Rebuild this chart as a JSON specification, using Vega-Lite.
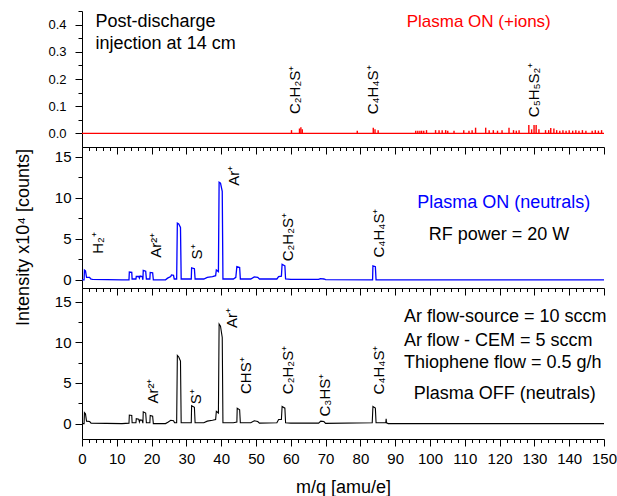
{
  "$schema": "https://vega.github.io/schema/vega-lite/v6.json",
  "background": "white",
  "padding": {"left": 14, "top": 10, "right": 0, "bottom": 0},
  "spacing": 0,
  "bounds": "flush",
  "config": {
    "view": {"stroke": null},
    "font": "Liberation Sans",
    "axis": {
      "grid": false,
      "domainColor": "black",
      "tickColor": "black",
      "labelColor": "black",
      "titleColor": "black",
      "labelFont": "Liberation Sans",
      "titleFont": "Liberation Sans",
      "labelFontSize": 15,
      "titleFontSize": 18,
      "titleFontWeight": "normal",
      "domainWidth": 1,
      "tickWidth": 1
    },
    "text": {"font": "Liberation Sans"}
  },
  "datasets": {
    "red": [{"x": 0, "y": 0}, {"x": 150, "y": 0}],
    "redSpikes": [
      {"x": 60.2, "y": 0.012}, {"x": 62.5, "y": 0.018}, {"x": 62.9, "y": 0.023}, {"x": 63.3, "y": 0.015},
      {"x": 79.1, "y": 0.01}, {"x": 83.7, "y": 0.021}, {"x": 84.2, "y": 0.015}, {"x": 85.1, "y": 0.012},
      {"x": 95.9, "y": 0.01}, {"x": 96.5, "y": 0.01}, {"x": 97.1, "y": 0.01}, {"x": 97.6, "y": 0.01},
      {"x": 98.2, "y": 0.01}, {"x": 99.0, "y": 0.012}, {"x": 101.6, "y": 0.012}, {"x": 102.6, "y": 0.012},
      {"x": 103.5, "y": 0.012}, {"x": 104.5, "y": 0.012}, {"x": 105.1, "y": 0.01}, {"x": 106.9, "y": 0.01},
      {"x": 109.7, "y": 0.012}, {"x": 111.2, "y": 0.01}, {"x": 112.1, "y": 0.012}, {"x": 113.1, "y": 0.021},
      {"x": 116.0, "y": 0.021}, {"x": 117.0, "y": 0.012}, {"x": 118.2, "y": 0.012}, {"x": 119.4, "y": 0.01},
      {"x": 120.7, "y": 0.012}, {"x": 122.7, "y": 0.021}, {"x": 124.0, "y": 0.012}, {"x": 124.8, "y": 0.01},
      {"x": 125.6, "y": 0.012}, {"x": 128.4, "y": 0.031}, {"x": 129.2, "y": 0.015}, {"x": 129.9, "y": 0.031},
      {"x": 130.5, "y": 0.031}, {"x": 131.3, "y": 0.015}, {"x": 133.2, "y": 0.012}, {"x": 134.1, "y": 0.012},
      {"x": 134.7, "y": 0.02}, {"x": 135.6, "y": 0.018}, {"x": 136.4, "y": 0.012}, {"x": 137.3, "y": 0.01},
      {"x": 138.2, "y": 0.012}, {"x": 139.1, "y": 0.01}, {"x": 140.0, "y": 0.012}, {"x": 141.0, "y": 0.01},
      {"x": 141.9, "y": 0.012}, {"x": 142.8, "y": 0.01}, {"x": 143.8, "y": 0.012}, {"x": 144.8, "y": 0.01},
      {"x": 146.6, "y": 0.01}, {"x": 147.5, "y": 0.012}, {"x": 148.4, "y": 0.01}, {"x": 149.3, "y": 0.012}
    ],
    "blue": [
      {"x": 0, "y": 0}, {"x": 0.6, "y": 0}, {"x": 0.7, "y": 1.2}, {"x": 1.0, "y": 1.1}, {"x": 1.3, "y": 0.3},
      {"x": 2.2, "y": 0.3}, {"x": 2.5, "y": 0.1}, {"x": 3.0, "y": 0.05}, {"x": 11.5, "y": 0}, {"x": 13.5, "y": 0},
      {"x": 13.6, "y": 0.95}, {"x": 14.3, "y": 0.9}, {"x": 14.4, "y": 0.1}, {"x": 15.5, "y": 0.1}, {"x": 15.6, "y": 0.4},
      {"x": 16.3, "y": 0.4}, {"x": 16.5, "y": 0.2}, {"x": 16.7, "y": 0.45}, {"x": 17.3, "y": 0.4}, {"x": 17.5, "y": 0},
      {"x": 17.6, "y": 1.15}, {"x": 18.3, "y": 1.05}, {"x": 18.5, "y": 0.1}, {"x": 19.5, "y": 0.1}, {"x": 19.6, "y": 0.9},
      {"x": 20.3, "y": 0.85}, {"x": 20.5, "y": 0}, {"x": 24.0, "y": 0}, {"x": 24.6, "y": 0.2}, {"x": 25.5, "y": 0.4},
      {"x": 25.7, "y": 0.6}, {"x": 26.3, "y": 0.55}, {"x": 26.5, "y": 0.1}, {"x": 27.2, "y": 0.1}, {"x": 27.4, "y": 6.9},
      {"x": 27.8, "y": 6.8}, {"x": 28.3, "y": 6.4}, {"x": 28.5, "y": 0.1}, {"x": 31.4, "y": 0.1}, {"x": 31.5, "y": 1.45},
      {"x": 32.3, "y": 1.35}, {"x": 32.5, "y": 0.1}, {"x": 35.0, "y": 0.1}, {"x": 36.0, "y": 0.3}, {"x": 37.5, "y": 0.4},
      {"x": 38.4, "y": 0.5}, {"x": 38.6, "y": 1.2}, {"x": 39.2, "y": 1.0}, {"x": 39.4, "y": 11.9}, {"x": 39.8, "y": 11.8},
      {"x": 40.3, "y": 10.8}, {"x": 40.5, "y": 0.1}, {"x": 43.5, "y": 0.1}, {"x": 44.2, "y": 0.3}, {"x": 44.5, "y": 1.6},
      {"x": 45.3, "y": 1.5}, {"x": 45.5, "y": 0.1}, {"x": 48.5, "y": 0.1}, {"x": 49.5, "y": 0.35}, {"x": 50.5, "y": 0.3},
      {"x": 51.0, "y": 0.1}, {"x": 56.0, "y": 0.1}, {"x": 56.5, "y": 0.4}, {"x": 57.3, "y": 0.45}, {"x": 57.5, "y": 1.9},
      {"x": 58.3, "y": 1.7}, {"x": 58.5, "y": 0.1}, {"x": 60.0, "y": 0.05}, {"x": 68.0, "y": 0.05}, {"x": 68.5, "y": 0.15},
      {"x": 69.5, "y": 0.1}, {"x": 70.0, "y": 0.02}, {"x": 83.5, "y": 0}, {"x": 83.6, "y": 1.7}, {"x": 84.3, "y": 1.6},
      {"x": 84.5, "y": 0}, {"x": 150, "y": 0}
    ],
    "black": [
      {"x": 0, "y": 0}, {"x": 0.6, "y": 0}, {"x": 0.7, "y": 1.35}, {"x": 1.0, "y": 1.2}, {"x": 1.3, "y": 0.3},
      {"x": 2.2, "y": 0.25}, {"x": 2.6, "y": 0.05}, {"x": 11.5, "y": 0}, {"x": 13.5, "y": 0.05}, {"x": 13.6, "y": 1.05},
      {"x": 14.3, "y": 1.0}, {"x": 14.4, "y": 0.1}, {"x": 15.5, "y": 0.1}, {"x": 15.6, "y": 0.6}, {"x": 16.3, "y": 0.55},
      {"x": 16.5, "y": 0.2}, {"x": 16.7, "y": 0.45}, {"x": 17.3, "y": 0.4}, {"x": 17.5, "y": 0.05}, {"x": 17.6, "y": 1.45},
      {"x": 18.3, "y": 1.3}, {"x": 18.5, "y": 0.1}, {"x": 19.5, "y": 0.1}, {"x": 19.6, "y": 1.0}, {"x": 20.3, "y": 0.9},
      {"x": 20.5, "y": 0}, {"x": 24.0, "y": 0}, {"x": 24.8, "y": 0.2}, {"x": 25.5, "y": 0.4}, {"x": 26.3, "y": 0.35},
      {"x": 26.6, "y": 0.1}, {"x": 27.2, "y": 0.1}, {"x": 27.4, "y": 8.4}, {"x": 27.8, "y": 8.2}, {"x": 28.3, "y": 7.7},
      {"x": 28.5, "y": 0.1}, {"x": 31.4, "y": 0.1}, {"x": 31.5, "y": 2.2}, {"x": 32.3, "y": 2.0}, {"x": 32.5, "y": 0.1},
      {"x": 35.0, "y": 0.1}, {"x": 36.0, "y": 0.3}, {"x": 37.5, "y": 0.4}, {"x": 38.4, "y": 0.5}, {"x": 38.6, "y": 1.5},
      {"x": 39.2, "y": 1.3}, {"x": 39.4, "y": 12.25}, {"x": 39.8, "y": 12.0}, {"x": 40.3, "y": 10.6}, {"x": 40.5, "y": 0.1},
      {"x": 43.5, "y": 0.1}, {"x": 44.5, "y": 0.2}, {"x": 44.6, "y": 1.9}, {"x": 45.3, "y": 1.7}, {"x": 45.5, "y": 0.1},
      {"x": 48.5, "y": 0.1}, {"x": 49.5, "y": 0.35}, {"x": 50.5, "y": 0.25}, {"x": 51.0, "y": 0.05}, {"x": 56.0, "y": 0.1},
      {"x": 56.5, "y": 0.5}, {"x": 57.3, "y": 0.5}, {"x": 57.5, "y": 2.1}, {"x": 58.3, "y": 1.9}, {"x": 58.5, "y": 0.1},
      {"x": 60.0, "y": 0.05}, {"x": 68.0, "y": 0.05}, {"x": 68.6, "y": 0.3}, {"x": 69.5, "y": 0.25}, {"x": 70.0, "y": 0.02},
      {"x": 83.4, "y": 0.1}, {"x": 83.6, "y": 2.1}, {"x": 84.3, "y": 1.9}, {"x": 84.5, "y": 0.1}, {"x": 87.3, "y": 0.1},
      {"x": 87.4, "y": 0.6}, {"x": 87.5, "y": 0.1}, {"x": 88.0, "y": 0}, {"x": 150, "y": 0}
    ],
    "topRot": [
      {"x": 61.2, "y": 0.16, "t": "C₂H₂S⁺"},
      {"x": 83.7, "y": 0.16, "t": "C₄H₄S⁺"},
      {"x": 130.0, "y": 0.16, "t": "C₅H₅S₂⁺"}
    ],
    "topLeft": [
      {"x": 3.9, "y": 0.408, "t": "Post-discharge"},
      {"x": 3.9, "y": 0.329, "t": "injection at 14 cm"}
    ],
    "topRed": [{"x": 114, "y": 0.408, "t": "Plasma ON (+ions)"}],
    "midRot": [
      {"x": 4.5, "y": 4.5, "t": "H₂⁺"},
      {"x": 21.3, "y": 4.2, "t": "Ar²⁺"},
      {"x": 33.0, "y": 3.4, "t": "S⁺"},
      {"x": 43.6, "y": 12.7, "t": "Ar⁺"},
      {"x": 59.1, "y": 5.2, "t": "C₂H₂S⁺"},
      {"x": 85.3, "y": 5.7, "t": "C₄H₄S⁺"}
    ],
    "midBlue": [{"x": 121.2, "y": 9.4, "t": "Plasma ON (neutrals)"}],
    "midBlack": [{"x": 119.8, "y": 5.5, "t": "RF power = 20 W"}],
    "botRot": [
      {"x": 20.5, "y": 4.0, "t": "Ar²⁺"},
      {"x": 32.7, "y": 3.3, "t": "S⁺"},
      {"x": 43.2, "y": 13.0, "t": "Ar⁺"},
      {"x": 47.2, "y": 5.9, "t": "CHS⁺"},
      {"x": 59.1, "y": 6.6, "t": "C₂H₂S⁺"},
      {"x": 69.8, "y": 3.5, "t": "C₃HS⁺"},
      {"x": 85.3, "y": 6.6, "t": "C₄H₄S⁺"}
    ],
    "botLeft": [
      {"x": 92.5, "y": 13.07, "t": "Ar flow-source = 10 sccm"},
      {"x": 92.5, "y": 10.2, "t": "Ar flow - CEM = 5 sccm"},
      {"x": 92.5, "y": 7.5, "t": "Thiophene flow = 0.5 g/h"}
    ],
    "botCenter": [{"x": 121.5, "y": 3.6, "t": "Plasma OFF (neutrals)"}]
  },
  "vconcat": [
    {
      "width": 522,
      "height": 136,
      "encoding": {
        "x": {
          "field": "x", "type": "quantitative",
          "scale": {"domain": [0, 150], "nice": false, "zero": false},
          "axis": {
            "values": [0,2,4,6,8,10,12,14,16,18,20,22,24,26,28,30,32,34,36,38,40,42,44,46,48,50,52,54,56,58,60,62,64,66,68,70,72,74,76,78,80,82,84,86,88,90,92,94,96,98,100,102,104,106,108,110,112,114,116,118,120,122,124,126,128,130,132,134,136,138,140,142,144,146,148,150],
            "labels": false, "title": null,
            "tickSize": {"condition": {"test": "datum.value % 10 == 0", "value": 7}, "value": 3.5}
          }
        },
        "y": {
          "field": "y", "type": "quantitative",
          "scale": {"domain": [-0.05, 0.45], "nice": false, "zero": false},
          "axis": {
            "values": [0, 0.05, 0.1, 0.15, 0.2, 0.25, 0.3, 0.35, 0.4, 0.45],
            "labelExpr": "round(datum.value*100) % 10 == 0 ? format(datum.value, '.1f') : ''",
            "tickSize": {"condition": {"test": "round(datum.value*100) % 10 == 0", "value": 7}, "value": 4},
            "labelFontSize": 13,
            "labelPadding": 9,
            "title": null
          }
        }
      },
      "layer": [
        {"data": {"name": "red"}, "mark": {"type": "line", "color": "#ff0000", "strokeWidth": 1.3}},
        {"data": {"name": "redSpikes"}, "mark": {"type": "rule", "color": "#ff0000", "strokeWidth": 1.4}, "encoding": {"y2": {"datum": 0}}},
        {"data": {"name": "topRot"}, "mark": {"type": "text", "angle": 270, "align": "center", "baseline": "middle", "fontSize": 15, "color": "black"}, "encoding": {"text": {"field": "t"}}},
        {"data": {"name": "topLeft"}, "mark": {"type": "text", "align": "left", "baseline": "middle", "fontSize": 18, "color": "black"}, "encoding": {"text": {"field": "t"}}},
        {"data": {"name": "topRed"}, "mark": {"type": "text", "align": "center", "baseline": "middle", "fontSize": 17, "color": "#ff0000"}, "encoding": {"text": {"field": "t"}}}
      ]
    },
    {
      "width": 522,
      "height": 141,
      "encoding": {
        "x": {
          "field": "x", "type": "quantitative",
          "scale": {"domain": [0, 150], "nice": false, "zero": false},
          "axis": {
            "values": [0,2,4,6,8,10,12,14,16,18,20,22,24,26,28,30,32,34,36,38,40,42,44,46,48,50,52,54,56,58,60,62,64,66,68,70,72,74,76,78,80,82,84,86,88,90,92,94,96,98,100,102,104,106,108,110,112,114,116,118,120,122,124,126,128,130,132,134,136,138,140,142,144,146,148,150],
            "labels": false, "title": null,
            "tickSize": {"condition": {"test": "datum.value % 10 == 0", "value": 7}, "value": 3.5}
          }
        },
        "y": {
          "field": "y", "type": "quantitative",
          "scale": {"domain": [-1, 16.2], "nice": false, "zero": false},
          "axis": {
            "values": [0, 2.5, 5, 7.5, 10, 12.5, 15],
            "labelExpr": "datum.value % 5 == 0 ? datum.label : ''",
            "tickSize": {"condition": {"test": "datum.value % 5 == 0", "value": 7}, "value": 4},
            "labelPadding": 4,
            "title": "Intensity  x10⁴ [counts]",
            "titleX": -58.5,
            "titleY": 90,
            "titleAngle": 270,
            "titleAlign": "center",
            "titleBaseline": "middle",
            "titleFontSize": 18
          }
        }
      },
      "layer": [
        {"data": {"name": "blue"}, "mark": {"type": "line", "color": "#0000ff", "strokeWidth": 1.3}},
        {"data": {"name": "midRot"}, "mark": {"type": "text", "angle": 270, "align": "center", "baseline": "middle", "fontSize": 15, "color": "black"}, "encoding": {"text": {"field": "t"}}},
        {"data": {"name": "midBlue"}, "mark": {"type": "text", "align": "center", "baseline": "middle", "fontSize": 18, "color": "#0000ff"}, "encoding": {"text": {"field": "t"}}},
        {"data": {"name": "midBlack"}, "mark": {"type": "text", "align": "center", "baseline": "middle", "fontSize": 18, "color": "black"}, "encoding": {"text": {"field": "t"}}}
      ]
    },
    {
      "width": 522,
      "height": 151,
      "encoding": {
        "x": {
          "field": "x", "type": "quantitative",
          "scale": {"domain": [0, 150], "nice": false, "zero": false},
          "axis": {
            "values": [0,2,4,6,8,10,12,14,16,18,20,22,24,26,28,30,32,34,36,38,40,42,44,46,48,50,52,54,56,58,60,62,64,66,68,70,72,74,76,78,80,82,84,86,88,90,92,94,96,98,100,102,104,106,108,110,112,114,116,118,120,122,124,126,128,130,132,134,136,138,140,142,144,146,148,150],
            "labelExpr": "datum.value % 10 == 0 ? datum.label : ''",
            "tickSize": {"condition": {"test": "datum.value % 10 == 0", "value": 7}, "value": 3.5},
            "labelPadding": 5,
            "labelFlush": false,
            "title": "m/q [amu/e]",
            "titlePadding": 12,
            "titleFontSize": 18
          }
        },
        "y": {
          "field": "y", "type": "quantitative",
          "scale": {"domain": [-1.9, 16.7], "nice": false, "zero": false},
          "axis": {
            "values": [0, 2.5, 5, 7.5, 10, 12.5, 15],
            "labelExpr": "datum.value % 5 == 0 ? datum.label : ''",
            "tickSize": {"condition": {"test": "datum.value % 5 == 0", "value": 7}, "value": 4},
            "labelPadding": 4,
            "title": null
          }
        }
      },
      "layer": [
        {"data": {"name": "black"}, "mark": {"type": "line", "color": "black", "strokeWidth": 1.1}},
        {"data": {"name": "botRot"}, "mark": {"type": "text", "angle": 270, "align": "center", "baseline": "middle", "fontSize": 15, "color": "black"}, "encoding": {"text": {"field": "t"}}},
        {"data": {"name": "botLeft"}, "mark": {"type": "text", "align": "left", "baseline": "middle", "fontSize": 18, "color": "black"}, "encoding": {"text": {"field": "t"}}},
        {"data": {"name": "botCenter"}, "mark": {"type": "text", "align": "center", "baseline": "middle", "fontSize": 18, "color": "black"}, "encoding": {"text": {"field": "t"}}}
      ]
    }
  ]
}
